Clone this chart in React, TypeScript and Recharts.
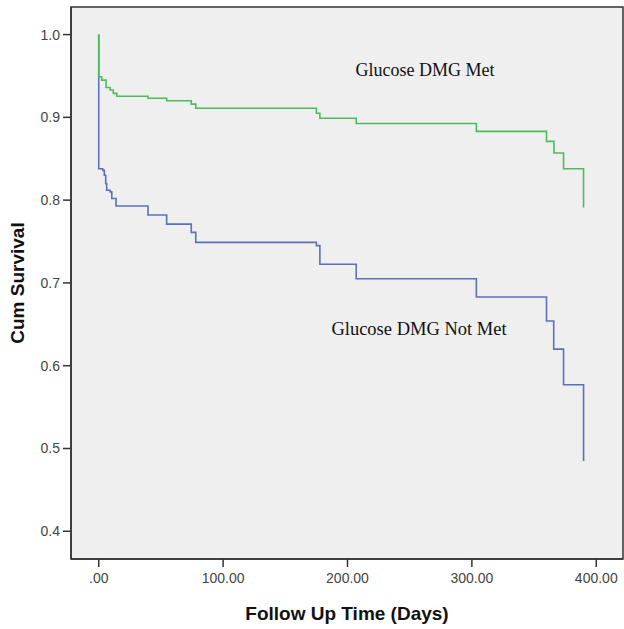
import { Label, Line, LineChart, ReferenceArea, ReferenceDot, XAxis, YAxis } from "recharts";

// Kaplan-Meier steps (days, cumulative survival)
const metDays = [0, 0, 2.4, 5.9, 9.1, 11.7, 14.5, 39.6, 54.6, 74.4, 78, 175, 177.8, 207, 303.6, 360, 366, 373.7, 389.8];
const metSurvival = [1.0, 0.949, 0.945, 0.936, 0.933, 0.929, 0.9255, 0.923, 0.92, 0.916, 0.911, 0.905, 0.899, 0.8926, 0.883, 0.871, 0.857, 0.838, 0.791];

const notMetDays = [0, 0, 3.2, 4.5, 5.6, 6.4, 9.1, 10.5, 13.9, 39.6, 54.6, 74.4, 78, 175, 177.8, 207, 303.6, 360, 365.8, 373.7, 389.8];
const notMetSurvival = [1.0, 0.838, 0.836, 0.83, 0.82, 0.812, 0.81, 0.802, 0.793, 0.782, 0.771, 0.761, 0.749, 0.745, 0.7226, 0.705, 0.683, 0.654, 0.62, 0.577, 0.485];

const xTicks = [0, 100, 200, 300, 400];
const xTickLabels = [".00", "100.00", "200.00", "300.00", "400.00"];
const yTicks = [0.4, 0.5, 0.6, 0.7, 0.8, 0.9, 1.0];

const xDomain: [number, number] = [-22.3, 421.5];
const yDomain: [number, number] = [0.3665, 1.0333];

const metData = metDays.map((t, i) => ({ t, s: metSurvival[i] }));
const notMetData = notMetDays.map((t, i) => ({ t, s: notMetSurvival[i] }));

const axisFont = { fontFamily: "'Liberation Sans', Arial, sans-serif", fontSize: 14, fill: "#444" };
const titleFont = "'Liberation Sans', Arial, sans-serif";
const serifFont = "'Liberation Serif', 'Times New Roman', serif";

export default function App() {
  return (
    <div style={{ position: "absolute", left: 0, top: 0 }}>
      <LineChart width={624} height={629} margin={{ top: 7, right: 1, bottom: 0, left: 0 }}>
        <XAxis
          dataKey="t"
          type="number"
          domain={xDomain}
          ticks={xTicks}
          allowDataOverflow
          tickFormatter={(v) => xTickLabels[xTicks.indexOf(v)] ?? String(v)}
          height={70}
          tickSize={8}
          tickMargin={6}
          tick={axisFont}
          stroke="#333"
          strokeWidth={1.5}
        >
          <Label
            value="Follow Up Time (Days)"
            position="insideBottom"
            offset={9}
            style={{ fontFamily: titleFont, fontSize: 19, fontWeight: "bold", fill: "#111" }}
          />
        </XAxis>
        <YAxis
          type="number"
          dataKey="s"
          domain={yDomain}
          ticks={yTicks}
          allowDataOverflow
          tickFormatter={(v) => Number(v).toFixed(1)}
          width={71}
          tickSize={8}
          tickMargin={3}
          tick={axisFont}
          stroke="#333"
          strokeWidth={1.5}
        >
          <Label
            content={({ viewBox }: any) => {
              const cx = 17;
              const cy = viewBox.y + viewBox.height / 2;
              return (
                <text
                  x={cx}
                  y={cy}
                  transform={`rotate(-90 ${cx} ${cy})`}
                  textAnchor="middle"
                  dominantBaseline="central"
                  style={{ fontFamily: titleFont, fontSize: 19, fontWeight: "bold", fill: "#111" }}
                >
                  Cum Survival
                </text>
              );
            }}
          />
        </YAxis>
        <ReferenceArea
          x1={xDomain[0]}
          x2={xDomain[1]}
          y1={yDomain[0]}
          y2={yDomain[1]}
          fill="#efefef"
          fillOpacity={1}
          stroke="#333"
          strokeWidth={1.5}
        />
        <Line
          data={notMetData}
          dataKey="s"
          type="stepAfter"
          stroke="#5d70be"
          strokeWidth={1.6}
          dot={false}
          isAnimationActive={false}
        />
        <Line
          data={metData}
          dataKey="s"
          type="stepAfter"
          stroke="#4dbd5b"
          strokeWidth={1.6}
          dot={false}
          isAnimationActive={false}
        />
        <ReferenceDot x={262.3} y={0.9577} r={0} stroke="none" fill="none">
          <Label
            value="Glucose DMG Met"
            position="center"
            style={{ fontFamily: serifFont, fontSize: 18, fill: "#111" }}
          />
        </ReferenceDot>
        <ReferenceDot x={257.5} y={0.6448} r={0} stroke="none" fill="none">
          <Label
            value="Glucose DMG Not Met"
            position="center"
            style={{ fontFamily: serifFont, fontSize: 18.5, fill: "#111" }}
          />
        </ReferenceDot>
      </LineChart>
    </div>
  );
}
